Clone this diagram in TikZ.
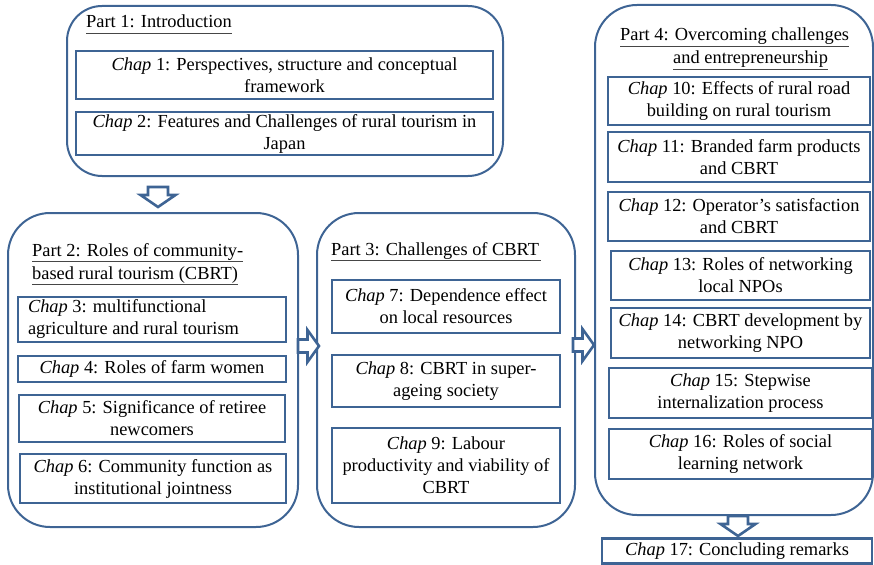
\documentclass[tikz,border=0pt]{standalone}
\usepackage{fontspec}
\setmainfont{Liberation Serif}
\definecolor{frame}{RGB}{62,100,148}
\definecolor{rulegray}{RGB}{70,70,70}
\begin{document}
\begin{tikzpicture}[x=1pt,y=-1pt,
  font=\fontsize{18.4}{22}\selectfont,
  partbox/.style={draw=frame, line width=2pt, rounded corners=#1, inner sep=0pt},
  partbox/.default=42pt,
  chapbox/.style={draw=frame, line width=2.6pt, inner sep=2pt, align=center},
  title/.style={anchor=base west, inner sep=0pt},
  uline/.style={draw=rulegray, line width=0.9pt},
  blockarrow/.style={draw=frame, fill=white, line width=2.6pt, line join=miter},
  downarr/.pic={\draw[blockarrow] (-10,0) -- (10,0) -- (10,8) -- (17.5,8) -- (0,20) -- (-17.5,8) -- (-10,8) -- cycle;},
  rightarr/.pic={\draw[blockarrow] (0,-6.5) -- (9.5,-6.5) -- (9.5,-16) -- (21,0) -- (9.5,16) -- (9.5,6.5) -- (0,6.5) -- cycle;}
]
\useasboundingbox (0,0) rectangle (874,564);

% Part frames
\node[partbox=35pt, minimum width=436pt, minimum height=170pt] (p1) at (285,91) {};
\node[partbox, minimum width=290pt, minimum height=314pt] (p2) at (153,370) {};
\node[partbox, minimum width=258pt, minimum height=314pt] (p3) at (446,370) {};
\node[partbox, minimum width=278pt, minimum height=510pt] (p4) at (734,260) {};

% Part titles
\node[title] (t1) at (86,28) {Part 1: Introduction};
\node[title] (t2a) at (32,256) {Part 2: Roles of community-};
\node[title] (t2b) at (32,279) {based rural tourism (CBRT)};
\node[title] (t3) at (331,255) {Part 3: Challenges of CBRT};
\node[title] (t4a) at (620,41) {Part 4: Overcoming challenges};
\node[title] (t4b) at (673,64) {and entrepreneurship};
\foreach \t in {t1,t2a,t2b,t4a,t4b}
  \draw[uline] ([yshift=-5pt]\t.base west) -- ([yshift=-5pt]\t.base east);
\draw[uline] ([yshift=-5pt]t3.base west) -- ([yshift=-5pt,xshift=2pt]t3.base east);

% Part 1 chapters
\node[chapbox, minimum width=417pt, minimum height=48pt] (c1) at (284.5,75)
  {\textit{Chap} 1: Perspectives, structure and conceptual\\framework};
\node[chapbox, minimum width=417pt, minimum height=43pt] (c2) at (284.5,133.5)
  {\textit{Chap} 2: Features and Challenges of rural tourism in\\Japan};

% Part 2 chapters
\node[chapbox, align=flush left, inner xsep=10pt, text width=248pt, minimum height=45pt] (c3) at (152,319.5)
  {\textit{Chap} 3: multifunctional\\agriculture and rural tourism};
\node[chapbox, minimum width=268pt, minimum height=26pt] (c4) at (152,369)
  {\textit{Chap} 4: Roles of farm women};
\node[chapbox, minimum width=266pt, minimum height=47pt] (c5) at (152,418.5)
  {\textit{Chap} 5: Significance of retiree\\newcomers};
\node[chapbox, minimum width=266pt, minimum height=49pt] (c6) at (153,478.5)
  {\textit{Chap} 6: Community function as\\institutional jointness};

% Part 3 chapters
\node[chapbox, minimum width=228pt, minimum height=53pt] (c7) at (446,306.5)
  {\textit{Chap} 7: Dependence effect\\on local resources};
\node[chapbox, minimum width=228pt, minimum height=52pt] (c8) at (446,381)
  {\textit{Chap} 8: CBRT in super-\\ageing society};
\node[chapbox, minimum width=228pt, minimum height=75pt] (c9) at (446,465.5)
  {\textit{Chap} 9: Labour\\productivity and viability of\\CBRT};

% Part 4 chapters
\node[chapbox, minimum width=262pt, minimum height=48pt] (c10) at (739,101)
  {\textit{Chap} 10: Effects of rural road\\building on rural tourism};
\node[chapbox, minimum width=262pt, minimum height=50pt] (c11) at (739,157)
  {\textit{Chap} 11: Branded farm products\\and CBRT};
\node[chapbox, minimum width=262pt, minimum height=49pt] (c12) at (739,216.5)
  {\textit{Chap} 12: Operator’s satisfaction\\and CBRT};
\node[chapbox, minimum width=259pt, minimum height=49pt] (c13) at (740.5,275.5)
  {\textit{Chap} 13: Roles of networking\\local NPOs};
\node[chapbox, minimum width=259pt, minimum height=50pt] (c14) at (740.5,333)
  {\textit{Chap} 14: CBRT development by\\networking NPO};
\node[chapbox, minimum width=263pt, minimum height=50pt] (c15) at (740.5,393)
  {\textit{Chap} 15: Stepwise\\internalization process};
\node[chapbox, minimum width=263pt, minimum height=50pt] (c16) at (740.5,454)
  {\textit{Chap} 16: Roles of social\\learning network};

% Conclusion
\node[chapbox, minimum width=270pt, minimum height=25pt] (c17) at (737,551)
  {\textit{Chap} 17: Concluding remarks};

% Flow arrows between parts
\pic at (158,187) {downarr};
\pic at (298,346) {rightarr};
\pic at (573,345) {rightarr};
\pic at (738,516) {downarr};
\end{tikzpicture}
\end{document}
